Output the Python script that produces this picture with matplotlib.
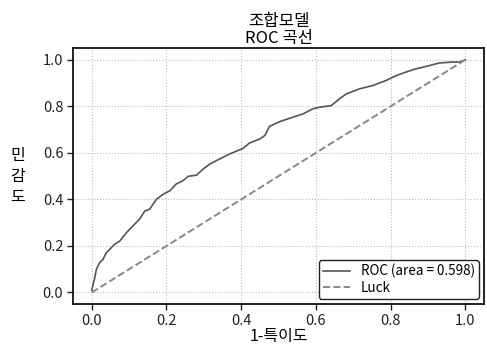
import matplotlib
matplotlib.use("Agg")
import matplotlib.pyplot as plt

plt.rcParams['font.family'] = ['Noto Sans CJK KR', 'DejaVu Sans']

fpr = [0.0, 0.008, 0.0125, 0.021, 0.03, 0.039, 0.048, 0.061, 0.075, 0.093, 0.11, 0.128,
       0.142, 0.155, 0.173, 0.191, 0.209, 0.226, 0.244, 0.258, 0.28, 0.298, 0.316, 0.333,
       0.369, 0.405, 0.422, 0.449, 0.463, 0.476, 0.503, 0.538, 0.565, 0.592, 0.61, 0.641,
       0.663, 0.681, 0.717, 0.752, 0.788, 0.815, 0.841, 0.868, 0.904, 0.93, 0.966, 0.984, 1.0]
tpr = [0.01, 0.063, 0.10, 0.128, 0.142, 0.171, 0.185, 0.207, 0.221, 0.257, 0.286, 0.315,
       0.35, 0.358, 0.40, 0.422, 0.437, 0.466, 0.48, 0.499, 0.504, 0.53, 0.552, 0.566,
       0.595, 0.619, 0.642, 0.659, 0.674, 0.714, 0.734, 0.753, 0.767, 0.789, 0.796, 0.803,
       0.832, 0.853, 0.875, 0.889, 0.911, 0.932, 0.947, 0.961, 0.975, 0.986, 0.99, 0.99, 1.0]
luck = [0.0, 1.0]
roc_label = 'ROC (area = 0.598)'
luck_label = 'Luck'

fig = plt.figure(figsize=(4.87, 3.46), dpi=100)
ax = fig.add_axes([0.15, 0.121, 0.844, 0.74])
ax.plot(fpr, tpr, color='#555555', lw=1.2, label=roc_label)
ax.plot(luck, luck, '--', color='#888888', lw=1.4, label=luck_label)
ax.set_xlim(-0.05, 1.05)
ax.set_ylim(-0.05, 1.05)
ax.set_xticks([0.0, 0.2, 0.4, 0.6, 0.8, 1.0])
ax.set_yticks([0.0, 0.2, 0.4, 0.6, 0.8, 1.0])
ax.grid(True, linestyle=':', color='#bbbbbb', lw=0.8)
for s in ax.spines.values():
    s.set_linewidth(1.3)
    s.set_color('#111111')
ax.tick_params(labelsize=10.5, length=4, width=1, colors='#222222', pad=3)
ax.set_title('조합모델\nROC 곡선', fontsize=12, linespacing=1.0, pad=4)
ax.set_xlabel('1-특이도', fontsize=11.5, labelpad=0)
ax.set_ylabel('민\n감\n도', fontsize=11.5, rotation=0, labelpad=18, va='center', linespacing=1.3)
leg = ax.legend(loc='lower right', fontsize=9.7, frameon=True, fancybox=True,
                edgecolor='#222222', framealpha=1, borderaxespad=0.4,
                borderpad=0.3, labelspacing=0.15, handletextpad=0.8)
leg.get_frame().set_linewidth(1.0)
fig.savefig('out.png', dpi=100)
